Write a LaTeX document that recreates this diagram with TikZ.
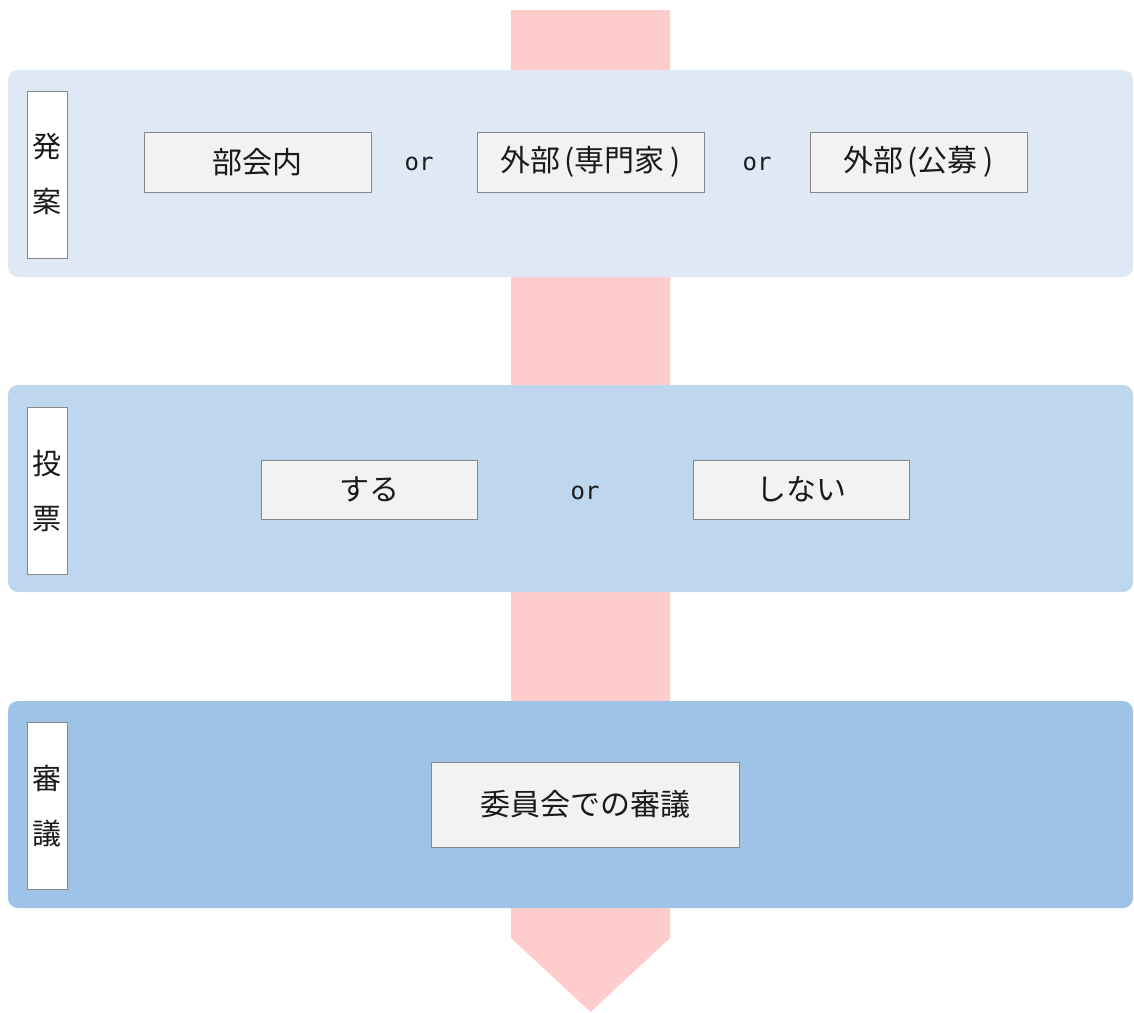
\documentclass[tikz,border=0pt]{standalone}
\usepackage{fontspec}
\newfontfamily\jp{Noto Sans CJK JP}
\newfontfamily\monofnt{DejaVu Sans Mono}
\definecolor{arrowc}{HTML}{FFCCCC}
\definecolor{bandA}{HTML}{DEE9F5}
\definecolor{bandB}{HTML}{BED7EE}
\definecolor{bandC}{HTML}{9DC3E6}
\definecolor{boxfill}{HTML}{F2F2F2}
\definecolor{boxline}{HTML}{888888}
\definecolor{txt}{HTML}{1A1A1A}
\begin{document}
\begin{tikzpicture}[x=1pt,y=-1pt,
  band/.style={rounded corners=10pt},
  lab/.style={draw=boxline,fill=white,line width=1pt,minimum width=40pt,minimum height=167pt,inner sep=0pt,align=center,font=\jp\fontsize{29}{55}\selectfont,text=txt},
  opt/.style={draw=boxline,fill=boxfill,line width=1pt,inner sep=0pt,font=\jp\fontsize{30}{34}\selectfont,text=txt},
  ortxt/.style={font=\monofnt\fontsize{24}{28}\selectfont,text=txt,inner sep=0pt}]
\useasboundingbox (0,0) rectangle (1134,1012);
% flow arrow
\fill[arrowc] (511,10) -- (670,10) -- (670,938) -- (590.5,1012) -- (511,938) -- cycle;
% bands
\fill[bandA,band] (8,70) rectangle (1133,277);
\fill[bandB,band] (8,385) rectangle (1133,592);
\fill[bandC,band] (8,701) rectangle (1133,908);
% stage labels
\node[lab] (l1) at (47,174.5) {発\\案};
\node[lab] (l2) at (47,490.5) {投\\票};
\node[lab] (l3) at (47,806) {審\\議};
% stage 1
\node[opt,minimum width=227pt,minimum height=60pt] (a1) at (257.5,162) {部会内};
\node[ortxt] (o1) at (419,164) {or};
\node[opt,minimum width=227pt,minimum height=60pt] (a2) at (590.5,162) {外部\hspace{4pt}(専門家\hspace{6pt})};
\node[ortxt] (o2) at (757,164) {or};
\node[opt,minimum width=217pt,minimum height=60pt] (a3) at (918.5,162) {外部\hspace{4pt}(公募\hspace{6pt})};
% stage 2
\node[opt,minimum width=216pt,minimum height=59pt] (b1) at (369,489.5) {する};
\node[ortxt] (o3) at (585,493) {or};
\node[opt,minimum width=216pt,minimum height=59pt] (b2) at (801,489.5) {しない};
% stage 3
\node[opt,minimum width=308pt,minimum height=85pt] (c1) at (585,804.5) {委員会での審議};
\end{tikzpicture}
\end{document}
